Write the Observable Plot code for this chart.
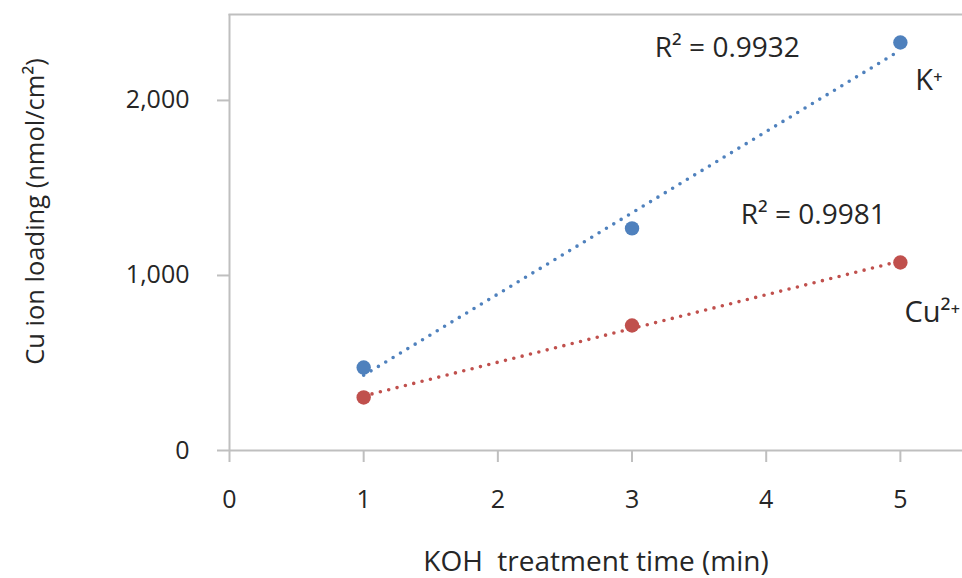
<!DOCTYPE html>
<html>
<head>
<meta charset="utf-8">
<script src="https://cdn.jsdelivr.net/npm/d3@7"></script>
<script src="https://cdn.jsdelivr.net/npm/@observablehq/plot@0.6"></script>
<style>
  html, body { margin: 0; padding: 0; background: #fff; }
  #chart svg { display: block; }
</style>
</head>
<body>
<div id="chart"></div>
<script>
// KOH treatment time (min) and measured Cu ion loading (nmol/cm²)
const times = [1, 3, 5];
const kLoading = [474, 1269, 2331];
const cuLoading = [303, 714, 1074];

// Axis ticks
const xTicks = [0, 1, 2, 3, 4, 5];
const yTicks = [0, 1000, 2000];

// Series names and fit annotations (placed in data units)
const seriesNames = ["K⁺", "Cu²⁺"];
const seriesNameX = [5.11, 5.03];
const seriesNameY = [2114, 789];
const r2Labels = ["R² = 0.9932", "R² = 0.9981"];
const r2X = [3.17, 3.81];
const r2Y = [2297, 1343];

const colors = ["#4F81BD", "#C0504D"];
const textColor = "#262626";
const axisColor = "#BFBFBF";
const font = "'Open Sans', 'Noto Sans', sans-serif";

const points = [
  ...times.map((t, i) => ({time: t, loading: kLoading[i], series: seriesNames[0]})),
  ...times.map((t, i) => ({time: t, loading: cuLoading[i], series: seriesNames[1]}))
];
const names = seriesNames.map((s, i) => ({name: s, x: seriesNameX[i], y: seriesNameY[i]}));
const fits = r2Labels.map((s, i) => ({label: s, x: r2X[i], y: r2Y[i]}));

const colorScale = {domain: seriesNames, range: colors};

const chart = Plot.plot({
  width: 962,
  height: 578,
  marginLeft: 229,
  marginRight: 0,
  marginTop: 14,
  marginBottom: 128,
  style: {fontFamily: font, color: textColor, background: "#fff"},
  x: {domain: [0, 5.463], ticks: xTicks},
  y: {domain: [0, 2491], ticks: yTicks},
  color: colorScale,
  marks: [
    Plot.frame({anchor: "top", stroke: axisColor, strokeWidth: 2, strokeOpacity: 1}),
    Plot.ruleX([0], {stroke: axisColor, strokeWidth: 2}),
    Plot.ruleY([0], {stroke: axisColor, strokeWidth: 2}),
    Plot.axisX({
      ticks: xTicks, tickSize: 12, tickPadding: 28, stroke: axisColor, strokeWidth: 2,
      strokeOpacity: 1, fill: textColor, fontSize: 25, label: null,
      tickFormat: d3.format("d")
    }),
    Plot.axisY({
      ticks: yTicks, tickSize: 12, tickPadding: 28, stroke: axisColor, strokeWidth: 2,
      strokeOpacity: 1, fill: textColor, fontSize: 25, label: null,
      tickFormat: d3.format(",")
    }),
    Plot.linearRegressionY(points, {
      x: "time", y: "loading", stroke: "series", z: "series", ci: 0,
      strokeWidth: 3.6, strokeDasharray: "0 8.6", strokeLinecap: "round"
    }),
    Plot.dot(points, {x: "time", y: "loading", fill: "series", r: 7.2}),
    Plot.text(fits, {
      x: "x", y: "y", text: "label", textAnchor: "start",
      fontSize: 28, fill: textColor
    }),
    Plot.text(names, {
      x: "x", y: "y", text: "name", textAnchor: "start",
      fontSize: 29, fill: textColor
    }),
    Plot.text(["KOH\u00A0\u00A0treatment time (min)"], {
      frameAnchor: "bottom", dy: 120, fontSize: 28, fill: textColor
    }),
    Plot.text(["Cu ion loading (nmol/cm²)"], {
      frameAnchor: "left", textAnchor: "middle", dx: -194, dy: -21,
      rotate: -90, fontSize: 25.5, fill: textColor
    })
  ]
});

document.getElementById("chart").appendChild(chart);
</script>
</body>
</html>
